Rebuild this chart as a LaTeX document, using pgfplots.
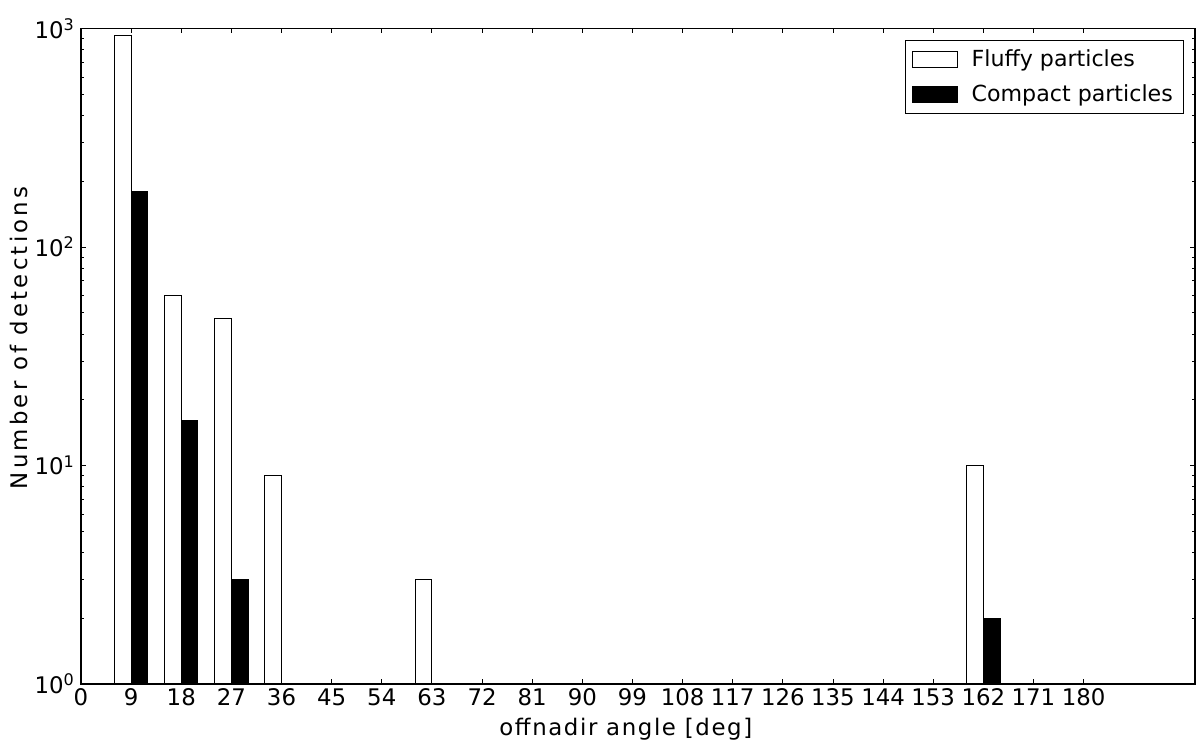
\documentclass[border=0pt]{standalone}
\usepackage{fontspec}
\setmainfont{DejaVu Sans}
\usepackage{pgfplots}
\pgfplotsset{compat=1.18}
\pgfplotsset{boxlegend/.style={legend image code/.code={\draw[##1] (0cm,-0.16cm) rectangle (0.9cm,0.16cm);}}}

\begin{document}
\begin{tikzpicture}
\useasboundingbox (-1.62,-1.24) rectangle (22.38,13.68);
\begin{axis}[
  at={(0,0)}, anchor=south west,
  scale only axis,
  width=22.28cm, height=13.11cm,
  ymode=log,
  xmin=0, xmax=200, ymin=1, ymax=1000,
  xtick={0,9,...,180},
  ytick={1,10,100,1000},
  yticklabels={10\textsuperscript{0},10\textsuperscript{1},10\textsuperscript{2},10\textsuperscript{3}},
  /pgf/number format/assume math mode=true,
  tick align=inside,
  major tick length=0.1cm, minor tick length=0.06cm,
  tick style={black, line width=0.5pt},
  axis line style={line width=0.8pt},
  ticklabel style={font=\fontsize{13}{15}\selectfont},
  xticklabel style={yshift=1pt},
  xlabel={offnadir angle [deg]},
  ylabel={Number of detections},
  every axis x label/.style={at={(axis description cs:0.489,-0.0778)}, anchor=base,
    font=\fontsize{13}{15}\selectfont\addfontfeature{LetterSpace=7}},
  every axis y label/.style={at={(axis description cs:-0.0482,0.528)}, rotate=90, anchor=base,
    font=\fontsize{13}{15}\selectfont\addfontfeature{LetterSpace=14}},
  legend style={at={(0.990,0.982)}, anchor=north east, draw=black, line width=0.6pt,
    font=\fontsize{12.6}{14}\selectfont, inner xsep=4pt, inner ysep=3pt, row sep=5pt,
    /tikz/every odd column/.append style={column sep=0.2cm}},
  legend cell align=left,
]
\addplot[ybar, bar width=3, bar shift=-1.5, draw=black, fill=white, line width=0.6pt, boxlegend]
  coordinates {(9,930) (18,60) (27,47) (36,9) (63,3) (162,10)};
\addlegendentry{Fluffy particles}
\addplot[ybar, bar width=3, bar shift=1.5, draw=black, fill=black, line width=0.6pt, boxlegend]
  coordinates {(9,179) (18,16) (27,3) (162,2)};
\addlegendentry{Compact particles}
\end{axis}
\end{tikzpicture}
\end{document}
